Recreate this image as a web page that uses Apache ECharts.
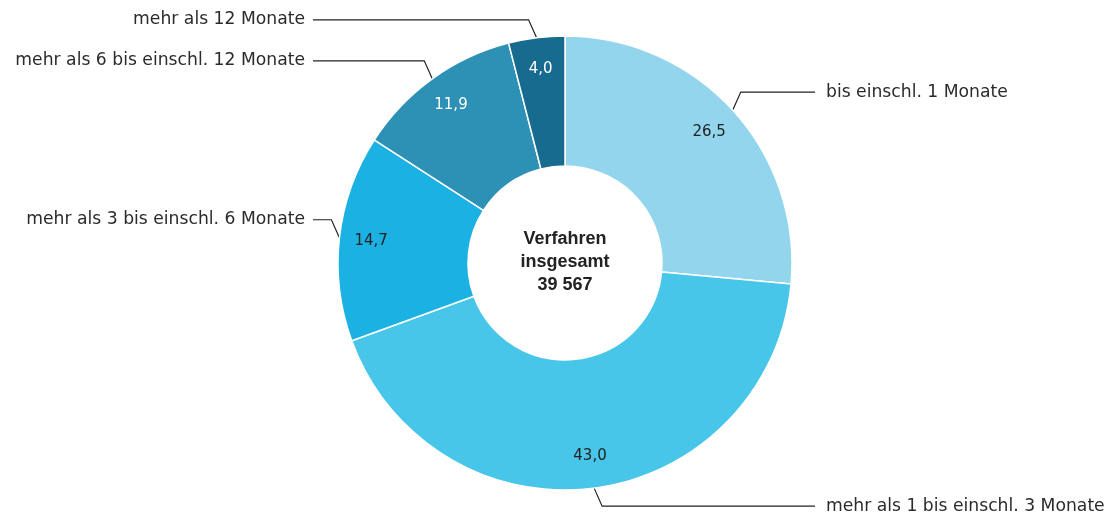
<!DOCTYPE html>
<html>
<head>
<meta charset="utf-8">
<script src="https://cdn.jsdelivr.net/npm/echarts@6/dist/echarts.min.js"></script>
<style>
    html, body { margin: 0; padding: 0; background: #fff; }
    #chart { width: 1115px; height: 517px; }
</style>
</head>
<body>
<div id="chart"></div>
<script>
var categories = ['bis einschl. 1 Monate', 'mehr als 1 bis einschl. 3 Monate', 'mehr als 3 bis einschl. 6 Monate',
    'mehr als 6 bis einschl. 12 Monate', 'mehr als 12 Monate'];
var shares = [26.5, 43.0, 14.7, 11.9, 4.0];
var total = 39567;

var colors = ['#92d5ed', '#48c6ea', '#1bb1e3', '#2d90b5', '#176b8e'];
var valueColors = ['#222', '#222', '#222', '#fff', '#fff'];

var CX = 565, CY = 263;

function fmtNum(v) {
    return v.toFixed(1).replace('.', ',');
}

function pieData(withColor) {
    var d = [];
    for (var i = 0; i < categories.length; i++) {
        d.push({
            name: categories[i],
            value: shares[i],
            itemStyle: withColor ? { color: colors[i] } : { color: 'transparent', borderWidth: 0 },
            label: withColor ? {} : { color: valueColors[i] }
        });
    }
    return d;
}

var myChart = echarts.init(document.getElementById('chart'));

var option = {
    animation: false,
    title: {
        text: 'Verfahren\ninsgesamt\n' + String(total).replace(/\B(?=(\d{3})+(?!\d))/g, ' '),
        left: CX,
        top: 228,
        padding: 0,
        textAlign: 'center',
        textStyle: {
            fontFamily: 'Liberation Sans',
            fontWeight: 'bold',
            fontSize: 18,
            lineHeight: 23,
            color: '#222'
        }
    },
    series: [
        {
            // ring with the category labels outside
            type: 'pie',
            center: [CX, CY],
            radius: [97, 227],
            startAngle: 90,
            clockwise: true,
            avoidLabelOverlap: false,
            silent: true,
            itemStyle: { borderColor: '#fff', borderWidth: 1.5 },
            label: {
                show: true,
                position: 'outside',
                formatter: '{b}',
                fontFamily: 'DejaVu Sans',
                fontSize: 17.2,
                color: '#2b2b2b'
            },
            labelLine: {
                show: true,
                length: 18,
                length2: 20,
                lineStyle: { color: '#222', width: 1.2 }
            },
            labelLayout: function (params) {
                var pts = params.labelLinePoints;
                if (!pts) return;
                var p0 = pts[0];
                var right = p0[0] >= CX;
                var down = p0[1] > CY;
                var p1 = [p0[0] + (right ? 8 : -8), p0[1] + (down ? 18 : -18)];
                var endX = right ? CX + 250 : CX - 252;
                return {
                    x: right ? endX + 11 : endX - 8,
                    y: p1[1],
                    align: right ? 'left' : 'right',
                    verticalAlign: 'middle',
                    labelLinePoints: [p0, p1, [endX, p1[1]]]
                };
            },
            data: pieData(true)
        },
        {
            // invisible ring carrying the value labels
            type: 'pie',
            center: [CX, CY],
            radius: [150, 234],
            startAngle: 90,
            clockwise: true,
            silent: true,
            avoidLabelOverlap: false,
            label: {
                show: true,
                position: 'inside',
                formatter: function (p) { return fmtNum(p.value); },
                fontFamily: 'DejaVu Sans',
                fontSize: 15
            },
            labelLine: { show: false },
            data: pieData(false)
        }
    ]
};

myChart.setOption(option);
</script>
</body>
</html>
